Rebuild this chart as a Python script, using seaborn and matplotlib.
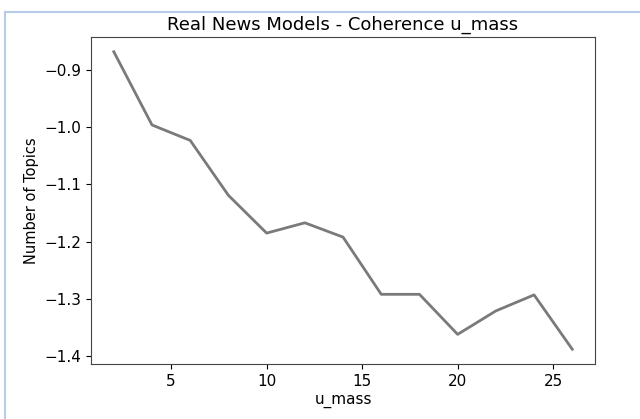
import pandas as pd
import matplotlib
matplotlib.use("Agg")
import matplotlib.pyplot as plt
import seaborn as sns
from matplotlib.lines import Line2D

# values
num_topics = [2, 4, 6, 8, 10, 12, 14, 16, 18, 20, 22, 24, 26]
u_mass = [-0.868, -0.996, -1.023, -1.119, -1.185, -1.167, -1.192,
          -1.292, -1.292, -1.362, -1.321, -1.293, -1.388]

df = pd.DataFrame({"topics": num_topics, "u_mass": u_mass})

fig = plt.figure(figsize=(6.4, 4.19), dpi=100)
ax = fig.add_axes([0.142, 0.131, 0.788, 0.781])

sns.lineplot(data=df, x="topics", y="u_mass", color="#7a7a7a", linewidth=2, ax=ax)

ax.set_title("Real News Models - Coherence u_mass", fontsize=13, pad=5)
ax.set_xlabel("u_mass", fontsize=11, labelpad=3)
ax.set_ylabel("Number of Topics", fontsize=10.5)
ax.set_xticks([5, 10, 15, 20, 25])
ax.set_yticks([-0.9, -1.0, -1.1, -1.2, -1.3, -1.4])
ax.tick_params(labelsize=11)

for s in ax.spines.values():
    s.set_color("#444444")

# light blue frame of the screenshot
fig.add_artist(Line2D([5 / 640, 5 / 640], [0, 1 - 12 / 419], color="#b8cce8", lw=1.5, transform=fig.transFigure))
fig.add_artist(Line2D([5 / 640, 1], [1 - 12 / 419, 1 - 12 / 419], color="#b8cce8", lw=1.5, transform=fig.transFigure))

fig.savefig("out.png", dpi=100)
